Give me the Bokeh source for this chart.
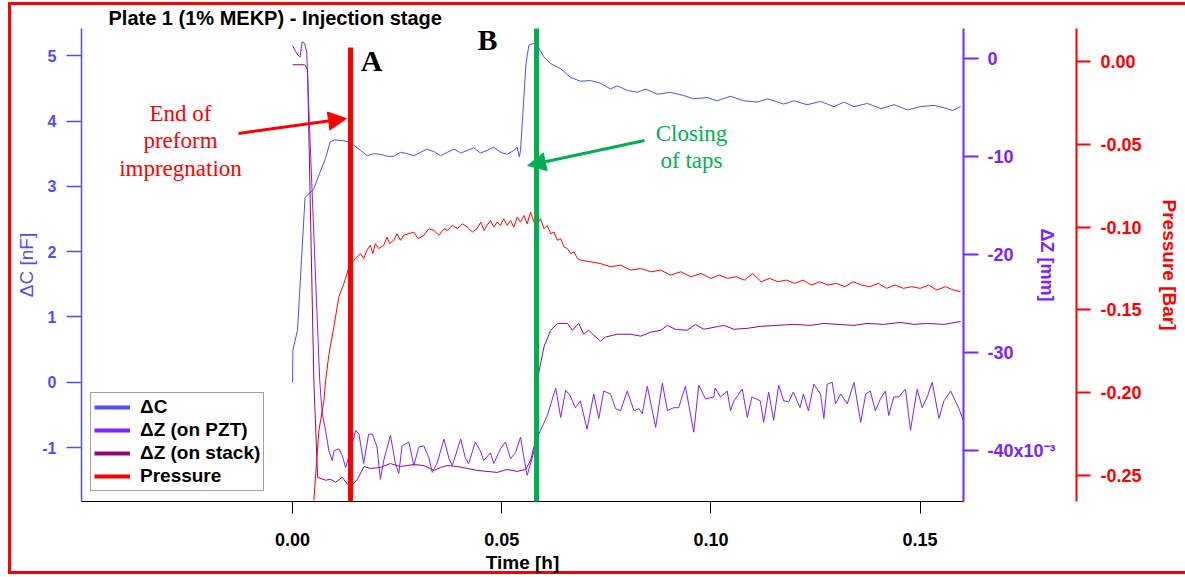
from bokeh.plotting import figure
from bokeh.models import (Range1d, LinearAxis, FixedTicker, NumeralTickFormatter, Label,
                          Arrow, NormalHead, Legend, LegendItem)
from bokeh.embed import file_html
from bokeh.resources import INLINE

# ---------------- data ----------------
TITLE = "Plate 1 (1% MEKP) - Injection stage"

# Delta C [nF] (left axis)
dc_t = [0.0000, 0.0001, 0.0012, 0.0030, 0.0050, 0.0065, 0.0080, 0.0090, 0.0100, 0.0120, 0.0135,
        0.01426, 0.01625, 0.01785, 0.01944, 0.02103, 0.02263, 0.02422, 0.02581, 0.0274, 0.0290,
        0.0306, 0.0322, 0.0338, 0.0354, 0.0370, 0.0386, 0.0402, 0.0418, 0.0433, 0.0449, 0.0465,
        0.0481, 0.0497, 0.0513, 0.0529, 0.0537, 0.0542, 0.0545, 0.0553, 0.0558, 0.0565, 0.0577,
        0.0585, 0.0601, 0.0617, 0.0641, 0.0664, 0.0688, 0.0712, 0.0736, 0.0760, 0.0776, 0.0800,
        0.0824, 0.0844, 0.0872, 0.0903, 0.0935, 0.0959, 0.0991, 0.1015, 0.1047, 0.1079, 0.1111,
        0.1135, 0.1174, 0.1198, 0.1230, 0.1262, 0.1294, 0.1318, 0.1342, 0.1374, 0.1406, 0.1438,
        0.1470, 0.1501, 0.1533, 0.1565, 0.1577, 0.1597]
dc_v = [0.00, 0.49, 0.80, 2.83, 2.95, 3.20, 3.45, 3.68, 3.71, 3.70, 3.68,
        3.65, 3.55, 3.47, 3.50, 3.49, 3.46, 3.46, 3.52, 3.50, 3.47,
        3.52, 3.57, 3.53, 3.47, 3.52, 3.57, 3.51, 3.55, 3.59, 3.51, 3.55,
        3.60, 3.52, 3.49, 3.55, 3.60, 3.45, 3.55, 4.36, 4.88, 5.16, 5.19,
        5.16, 4.98, 4.88, 4.80, 4.67, 4.61, 4.62, 4.58, 4.49, 4.54, 4.47,
        4.44, 4.49, 4.41, 4.44, 4.39, 4.34, 4.36, 4.31, 4.38, 4.31, 4.29,
        4.34, 4.26, 4.31, 4.25, 4.30, 4.22, 4.29, 4.22, 4.27, 4.19, 4.25,
        4.17, 4.22, 4.24, 4.19, 4.16, 4.22]

# Delta Z on PZT [x1e-3 mm] (right axis)
zp_t = [0.0000, 0.0011, 0.0018, 0.0023, 0.0029, 0.0034, 0.0041, 0.0065, 0.0071, 0.0079, 0.0087,
        0.0095, 0.0099, 0.0111, 0.0119, 0.0127, 0.0135, 0.0151, 0.0159, 0.0170, 0.0182, 0.0191,
        0.0202, 0.0210, 0.0218, 0.0234, 0.0246, 0.0254, 0.0262, 0.0278, 0.0290, 0.0302, 0.0314,
        0.0326, 0.0334, 0.0346, 0.0362, 0.0374, 0.0382, 0.0402, 0.0413, 0.0421, 0.0437, 0.0449,
        0.0457, 0.0473, 0.0481, 0.0497, 0.0509, 0.0521, 0.0533, 0.0545, 0.0553, 0.0561, 0.0573,
        0.0585, 0.0593, 0.0609, 0.0629, 0.0641, 0.0653, 0.0664, 0.0676, 0.0688, 0.0704, 0.0720,
        0.0732, 0.0744, 0.0760, 0.0772, 0.0784, 0.0800, 0.0816, 0.0828, 0.0836, 0.0848, 0.0868,
        0.0884, 0.0896, 0.0911, 0.0923, 0.0939, 0.0959, 0.0971, 0.0987, 0.1007, 0.1010, 0.1023,
        0.1039, 0.1047, 0.1055, 0.1075, 0.1087, 0.1098, 0.1118, 0.1126, 0.1138, 0.1150, 0.1162,
        0.1174, 0.1186, 0.1197, 0.1213, 0.1221, 0.1233, 0.1246, 0.1262, 0.1270, 0.1278, 0.1290,
        0.1298, 0.1310, 0.1326, 0.1342, 0.1358, 0.1370, 0.1381, 0.1393, 0.1405, 0.1417, 0.1425,
        0.1437, 0.1449, 0.1465, 0.1477, 0.1493, 0.1505, 0.1517, 0.1529, 0.1545, 0.1557, 0.1573,
        0.1593, 0.1603]
zp_v = [1.34, 0.48, 0.17, 1.73, 1.57, 0.67, -7.3, -32.8, -36.2, -37.9, -40.0,
        -41.0, -40.0, -39.8, -40.5, -41.7, -40.5, -37.9, -38.3, -41.3, -38.3, -38.3,
        -39.6, -42.9, -41.0, -38.4, -41.3, -42.3, -39.5, -39.1, -41.5, -39.6, -39.5,
        -40.7, -42.2, -41.2, -38.8, -40.8, -41.5, -38.8, -40.7, -41.3, -39.1, -40.0,
        -41.0, -40.2, -41.3, -39.8, -39.1, -40.8, -40.2, -38.6, -40.7, -42.5, -40.7,
        -38.6, -37.9, -36.4, -33.6, -36.6, -33.8, -34.4, -35.6, -34.9, -37.8, -34.2,
        -36.7, -33.9, -34.2, -35.7, -35.9, -33.9, -35.9, -35.7, -36.2, -33.4, -37.6,
        -33.1, -35.9, -35.6, -35.6, -33.4, -38.1, -33.3, -34.7, -34.5, -33.6, -34.5,
        -33.9, -35.9, -34.9, -33.7, -36.6, -34.5, -34.9, -37.1, -34.0, -36.9, -33.3,
        -34.9, -35.0, -34.0, -35.6, -34.2, -35.9, -33.2, -34.2, -36.7, -33.2, -33.0,
        -35.2, -34.2, -35.2, -33.0, -37.1, -34.2, -33.9, -35.9, -34.7, -33.9, -36.4,
        -34.5, -34.5, -33.7, -37.9, -33.7, -35.6, -34.5, -33.0, -36.7, -34.9, -33.9,
        -35.7, -36.9]

# Delta Z on stack [x1e-3 mm] (right axis)
zs_t = [0.0000, 0.0029, 0.0036, 0.0051, 0.0060, 0.0079, 0.0091, 0.0103, 0.0119, 0.0131, 0.0143,
        0.0155, 0.0171, 0.0186, 0.0210, 0.0234, 0.0258, 0.0290, 0.0314, 0.0338, 0.0354, 0.0370,
        0.0394, 0.0418, 0.0441, 0.0465, 0.0489, 0.0513, 0.0537, 0.0557, 0.0569, 0.0581, 0.0585,
        0.0601, 0.0617, 0.0633, 0.0657, 0.0669, 0.0684, 0.0696, 0.0708, 0.0720, 0.0736, 0.0748,
        0.0776, 0.0808, 0.0832, 0.0856, 0.0880, 0.0896, 0.0915, 0.0943, 0.0963, 0.0983, 0.1031,
        0.1055, 0.1087, 0.1118, 0.1158, 0.1198, 0.1238, 0.1270, 0.1302, 0.1342, 0.1373, 0.1413,
        0.1453, 0.1485, 0.1517, 0.1557, 0.1597]
zs_v = [-0.61, -0.61, -1.08, -32.8, -42.7, -43.0, -42.9, -43.2, -42.7, -43.4, -43.5,
        -42.9, -41.6, -41.8, -41.7, -41.3, -41.6, -41.4, -41.5, -42.0, -41.7, -41.5,
        -41.6, -41.8, -42.0, -42.1, -42.2, -41.9, -42.1, -41.9, -41.0, -38.9, -32.8,
        -29.4, -27.7, -27.0, -27.0, -27.7, -27.0, -28.1, -27.7, -28.2, -28.8, -28.4,
        -28.1, -28.1, -28.3, -27.9, -27.7, -27.2, -27.6, -27.7, -27.1, -27.6, -27.2,
        -27.6, -27.5, -27.3, -27.2, -27.1, -27.2, -27.0, -27.1, -27.2, -27.0, -27.1,
        -26.9, -27.1, -27.0, -27.1, -26.8]

# Pressure [Bar] (outer right axis)
pr_t = [0.0051, 0.0063, 0.0075, 0.0079, 0.0087, 0.0099, 0.0111, 0.0123, 0.0135, 0.0147, 0.0163,
        0.0170, 0.0178, 0.0186, 0.0192, 0.0198, 0.0206, 0.0218, 0.0226, 0.0232, 0.0242, 0.0250,
        0.0258, 0.0266, 0.0290, 0.0300, 0.0314, 0.0326, 0.0338, 0.0350, 0.0362, 0.0370, 0.0382,
        0.0394, 0.0406, 0.0418, 0.0430, 0.0441, 0.0450, 0.0458, 0.0465, 0.0473, 0.0481, 0.0489,
        0.0497, 0.0505, 0.0513, 0.0521, 0.0529, 0.0537, 0.0545, 0.0553, 0.0561, 0.0569, 0.0577,
        0.0585, 0.0593, 0.0601, 0.0609, 0.0617, 0.0625, 0.0633, 0.0641, 0.0649, 0.0657, 0.0665,
        0.0673, 0.0681, 0.0689, 0.0736, 0.0760, 0.0784, 0.0808, 0.0832, 0.0856, 0.0880, 0.0904,
        0.0928, 0.0952, 0.0976, 0.1000, 0.1020, 0.1040, 0.1060, 0.1080, 0.1100, 0.1120, 0.1140,
        0.1160, 0.1180, 0.1200, 0.1220, 0.1240, 0.1260, 0.1280, 0.1300, 0.1320, 0.1340, 0.1360,
        0.1380, 0.1400, 0.1420, 0.1440, 0.1460, 0.1480, 0.1500, 0.1520, 0.1540, 0.1560, 0.1580,
        0.1597]
pr_v = [-0.265, -0.223, -0.205, -0.193, -0.177, -0.160, -0.142, -0.134, -0.124, -0.120, -0.116,
        -0.119, -0.114, -0.111, -0.116, -0.110, -0.113, -0.111, -0.106, -0.110, -0.108, -0.104,
        -0.108, -0.105, -0.103, -0.107, -0.105, -0.101, -0.102, -0.105, -0.101, -0.102, -0.099,
        -0.101, -0.098, -0.100, -0.103, -0.101, -0.097, -0.102, -0.099, -0.096, -0.100, -0.097,
        -0.099, -0.095, -0.099, -0.096, -0.100, -0.094, -0.097, -0.093, -0.098, -0.091, -0.097,
        -0.098, -0.095, -0.101, -0.099, -0.104, -0.103, -0.108, -0.107, -0.112, -0.113, -0.116,
        -0.115, -0.119, -0.120, -0.122, -0.124, -0.123, -0.126, -0.125, -0.127, -0.126, -0.129,
        -0.127, -0.130, -0.128, -0.131, -0.129, -0.131, -0.130, -0.132, -0.128, -0.133, -0.131,
        -0.133, -0.132, -0.134, -0.132, -0.135, -0.133, -0.135, -0.134, -0.136, -0.133, -0.135,
        -0.136, -0.134, -0.137, -0.135, -0.137, -0.136, -0.137, -0.135, -0.138, -0.136, -0.138,
        -0.139]

X_TICKS = [0.0, 0.05, 0.10, 0.15]
C_TICKS = [-1, 0, 1, 2, 3, 4, 5]
Z_TICKS = [-40, -30, -20, -10, 0]
Z_TICK_LABELS = ["-40x10\u207b\u00b3", "-30", "-20", "-10", "0"]
P_TICKS = [-0.25, -0.20, -0.15, -0.10, -0.05, 0.0]

EVENT_A = 0.01386   # end of preform impregnation
EVENT_B = 0.05832   # closing of taps

# ---------------- styling ----------------
C_COL = "#4d4dff"
ZP_COL = "#7a22ff"
ZS_COL = "#990080"
P_COL = "#ff0000"
G_COL = "#00b050"
SANS = "Liberation Sans"
SERIF = "Liberation Serif"

p = figure(width=1185, height=577, output_backend="svg", toolbar_location=None,
           x_range=Range1d(-0.05043, 0.16037), y_range=Range1d(-1.827, 5.417),
           x_axis_type=None, y_axis_type=None,
           min_border_left=81, min_border_right=222, min_border_top=28, min_border_bottom=76)
p.title.text = TITLE
p.title.align = "left"
p.title.offset = 27
p.title.standoff = 0
p.title.text_font = SANS
p.title.text_font_style = "bold"
p.title.text_font_size = "20px"
p.title.text_color = "black"
p.outline_line_color = None
p.background_fill_color = "white"
p.border_fill_color = None
# red frame around the whole graphic (left, top and bottom edges only);
# the left edge is anchored from the right so it only appears on the full-width element
p.styles = {
    "background-color": "white",
    "background-image": "linear-gradient(#ff0000, #ff0000), linear-gradient(#ff0000, #ff0000), "
                        "linear-gradient(#ff0000, #ff0000)",
    "background-size": "3px 572px, 1177px 3px, 1177px 3px",
    "background-position": "right 1174px top 2px, 8px 2px, 8px 571px",
    "background-repeat": "no-repeat, no-repeat, no-repeat",
}
p.extra_y_ranges = {"dz": Range1d(-45.17, 3.09), "pr": Range1d(-0.2657, 0.0199)}


def style_axis(ax, color, size, tick_out=15, standoff=9, lw=1.5):
    ax.axis_line_color = color
    ax.axis_line_width = lw
    ax.major_tick_line_color = color
    ax.major_tick_line_width = lw
    ax.major_tick_out = tick_out
    ax.major_tick_in = 0
    ax.minor_tick_line_color = None
    ax.major_label_text_color = color
    ax.major_label_text_font = SANS
    ax.major_label_text_font_style = "bold"
    ax.major_label_text_font_size = size
    ax.major_label_standoff = standoff


xax = LinearAxis(ticker=FixedTicker(ticks=X_TICKS), formatter=NumeralTickFormatter(format="0.00"),
                 axis_label="Time [h]")
style_axis(xax, "black", "18px", tick_out=12, standoff=19, lw=1)
xax.axis_label_text_font = SANS
xax.axis_label_text_font_style = "bold"
xax.axis_label_text_font_size = "19px"
xax.axis_label_text_color = "black"
xax.axis_label_standoff = 3
p.add_layout(xax, "below")

cax = LinearAxis(ticker=FixedTicker(ticks=C_TICKS), axis_label="ΔC [nF]")
style_axis(cax, C_COL, "16px", tick_out=15, standoff=10, lw=1.5)
cax.major_label_overrides = {t: str(t) for t in C_TICKS}
cax.axis_label_text_font = SANS
cax.axis_label_text_font_style = "normal"
cax.axis_label_text_font_size = "19px"
cax.axis_label_text_color = C_COL
cax.axis_label_standoff = 2
p.add_layout(cax, "left")

zax = LinearAxis(y_range_name="dz", ticker=FixedTicker(ticks=Z_TICKS), axis_label="ΔZ [mm]")
style_axis(zax, ZP_COL, "18px", tick_out=15, standoff=9, lw=2)
zax.major_label_overrides = dict(zip(Z_TICKS, Z_TICK_LABELS))
zax.axis_label_text_font = SANS
zax.axis_label_text_font_style = "bold"
zax.axis_label_text_font_size = "18px"
zax.axis_label_text_color = ZP_COL
zax.axis_label_standoff = -22
p.add_layout(zax, "right")

# invisible spacer between the two right-hand axes
spacer = LinearAxis(y_range_name="dz", ticker=FixedTicker(ticks=[-44.5]))
spacer.axis_line_color = None
spacer.major_tick_line_color = "white"
spacer.major_tick_line_width = 1
spacer.major_tick_out = 17
spacer.major_tick_in = 0
spacer.minor_tick_line_color = None
spacer.major_label_standoff = 0
spacer.major_label_overrides = {-44.5: ""}
p.add_layout(spacer, "right")

pax = LinearAxis(y_range_name="pr", ticker=FixedTicker(ticks=P_TICKS),
                 formatter=NumeralTickFormatter(format="0.00"), axis_label="Pressure [Bar]")
style_axis(pax, P_COL, "18px", tick_out=14, standoff=10, lw=2)
pax.axis_label_text_font = SANS
pax.axis_label_text_font_style = "bold"
pax.axis_label_text_font_size = "19px"
pax.axis_label_text_color = P_COL
pax.axis_label_standoff = 14
p.add_layout(pax, "right")

# ---------------- series ----------------
p.line(dc_t, dc_v, line_color=C_COL, line_width=1)
p.line(zs_t, zs_v, line_color=ZS_COL, line_width=1, y_range_name="dz")
p.line(zp_t, zp_v, line_color=ZP_COL, line_width=1, y_range_name="dz")
p.line(pr_t, pr_v, line_color=P_COL, line_width=1, y_range_name="pr")

# legend proxies (single point -> nothing drawn in the plot, thick sample in the legend)
lg = [p.line(dc_t[:1], dc_v[:1], line_color=C_COL, line_width=4),
      p.line(zp_t[:1], zp_v[:1], line_color=ZP_COL, line_width=4, y_range_name="dz"),
      p.line(zs_t[:1], zs_v[:1], line_color=ZS_COL, line_width=4, y_range_name="dz"),
      p.line(pr_t[:1], pr_v[:1], line_color=P_COL, line_width=4, y_range_name="pr")]
legend = Legend(items=[LegendItem(label=t, renderers=[r]) for t, r in
                       zip(["ΔC", "ΔZ (on PZT)", "ΔZ (on stack)", "Pressure"], lg)],
                location=(9, 10), label_text_font=SANS, label_text_font_style="bold",
                label_text_font_size="19px", label_text_color="black",
                glyph_width=36, glyph_height=20, label_height=20, label_standoff=10,
                spacing=1, padding=3, margin=0, border_line_color="#404040",
                border_line_width=1, background_fill_color="white", background_fill_alpha=1)
p.add_layout(legend)

# ---------------- annotations ----------------
p.add_layout(Arrow(end=None, x_start=EVENT_A, x_end=EVENT_A, y_start=5.126, y_end=-2.118,
                   line_color=P_COL, line_width=5))
p.add_layout(Arrow(end=None, x_start=EVENT_B, x_end=EVENT_B, y_start=5.508, y_end=-2.195,
                   line_color=G_COL, line_width=5))
p.add_layout(Arrow(end=NormalHead(size=18, fill_color=P_COL, line_color=P_COL),
                   x_start=-0.01291, y_start=3.809, x_end=0.01290, y_end=4.038,
                   line_color=P_COL, line_width=3))
p.add_layout(Arrow(end=NormalHead(size=18, fill_color=G_COL, line_color=G_COL),
                   x_start=0.08413, y_start=3.701, x_end=0.05620, y_end=3.318,
                   line_color=G_COL, line_width=3))


def lab(x, y, text, font, size, color, style="normal"):
    p.add_layout(Label(x=x, y=y, text=text, text_font=font, text_font_size=size,
                       text_color=color, text_font_style=style, text_align="center",
                       text_baseline="middle"))


lab(0.01888, 4.926, "A", SERIF, "30px", "black", "bold")
lab(0.04661, 5.250, "B", SERIF, "30px", "black", "bold")
for txt, yy in (("End of", 4.115), ("preform", 3.701), ("impregnation", 3.273)):
    lab(-0.02677, yy, txt, SERIF, "23px", P_COL)
for txt, yy in (("Closing", 3.809), ("of taps", 3.395)):
    lab(0.09536, yy, txt, SERIF, "23px", G_COL)

open("out.html", "w").write(file_html(p, INLINE))
